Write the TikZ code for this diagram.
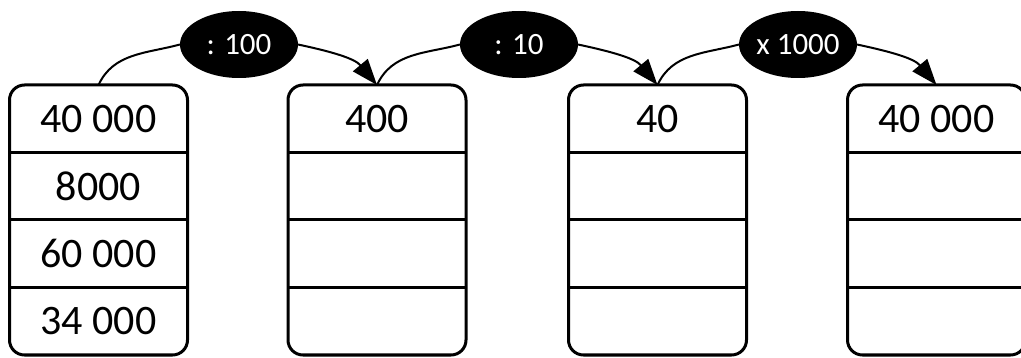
\documentclass[tikz,border=0pt]{standalone}
\usepackage{fontspec}
\setmainfont{Carlito}
\usetikzlibrary{arrows.meta,shapes.geometric,calc}
\begin{document}
\begin{tikzpicture}[x=1pt,y=1pt,
  box/.style={draw,line width=3pt,rounded corners=15pt,minimum width=178pt,minimum height=270pt,inner sep=0pt,outer sep=0pt},
  op/.style={ellipse,fill=black,minimum width=118pt,minimum height=67pt,inner sep=0pt,outer sep=0pt,text=white,font=\fontsize{31}{36}\selectfont},
  val/.style={font=\fontsize{42}{50}\selectfont,inner sep=0pt},
  sep/.style={line width=3pt},
  conn/.style={line width=2pt},
  arr/.style={conn,-{Triangle[length=26pt,width=19pt]}}]
\useasboundingbox (0,0) rectangle (1021,-358);
% boxes
\node[box] (b1) at (98.5,-220) {};
\node[box] (b2) at (377,-220) {};
\node[box] (b3) at (657.5,-220) {};
\node[box] (b4) at (936.5,-220) {};
\foreach \b in {b1,b2,b3,b4}{
  \foreach \k in {1,2,3}{
    \draw[sep] ([yshift=-\k*67.5pt]\b.north west) -- ([yshift=-\k*67.5pt]\b.north east);
  }
}
% values
\node[val] (b1r1) at ($(b1.north)+(0,-33.75)$) {40 000};
\node[val] (b1r2) at ($(b1.north)+(0,-101.25)$) {8000};
\node[val] (b1r3) at ($(b1.north)+(0,-168.75)$) {60 000};
\node[val] (b1r4) at ($(b1.north)+(0,-236.25)$) {34 000};
\node[val] (b2r1) at ($(b2.north)+(0,-33.75)$) {400};
\node[val] (b3r1) at ($(b3.north)+(0,-33.75)$) {40};
\node[val] (b4r1) at ($(b4.north)+(0,-33.75)$) {40 000};
% operations
\node[op] (e1) at (239,-44.5) {: 100};
\node[op] (e2) at (519,-44.5) {: 10};
\node[op] (e3) at (798,-44.5) {x 1000};
% connectors
\draw[conn] (b1.north) to[out=65,in=195] (e1.west);
\draw[arr] (e1.east) to[out=-12,in=130] (b2.north);
\draw[conn] (b2.north) to[out=65,in=195] (e2.west);
\draw[arr] (e2.east) to[out=-12,in=130] (b3.north);
\draw[conn] (b3.north) to[out=65,in=195] (e3.west);
\draw[arr] (e3.east) to[out=-12,in=130] (b4.north);
\end{tikzpicture}
\end{document}
